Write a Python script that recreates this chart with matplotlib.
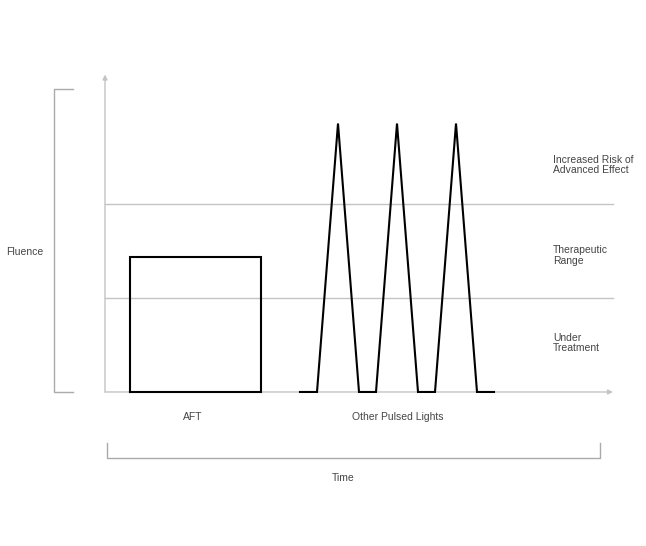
import matplotlib.pyplot as plt

# fluence levels (arbitrary units, baseline = 0)
lower_limit = 1.0
upper_limit = 2.0

# AFT: one long, flat pulse (closed box)
aft_t = [2.5, 2.5, 15.6, 15.6, 2.5]
aft_f = [0.0, 1.43, 1.43, 0.0, 0.0]

# other pulsed lights: three short, high spikes
pulse_t = [19.5, 21.2, 23.3, 25.4, 27.1, 29.2, 31.3, 33.0, 35.1, 37.2, 38.9]
pulse_f = [0.0, 0.0, 2.85, 0.0, 0.0, 2.85, 0.0, 0.0, 2.85, 0.0, 0.0]

zone_labels = ['Increased Risk of\nAdvanced Effect', 'Therapeutic\nRange', 'Under\nTreatment']
zone_pos = [2.41, 1.45, 0.52]

t_end = 50.8
f_top = 3.37

grey = '#c4c4c4'
txt = '#444444'
fnt = ['Liberation Sans', 'DejaVu Sans']

fig = plt.figure(figsize=(6.46, 5.46), dpi=100)
ax = fig.add_axes([0, 0, 1, 1])
ax.set_xlim(-10.5, 54.1)
ax.set_ylim(-1.635, 4.161)
ax.axis('off')

# axes with arrows
arrow = dict(arrowstyle='-|>', color=grey, lw=1.0, mutation_scale=7, shrinkA=0, shrinkB=0)
ax.annotate('', xy=(t_end, 0), xytext=(0, 0), arrowprops=arrow, zorder=1)
ax.annotate('', xy=(0, f_top), xytext=(0, 0), arrowprops=arrow, zorder=1)

# thresholds
for lvl in [lower_limit, upper_limit]:
    ax.plot([0, t_end], [lvl, lvl], color=grey, lw=1.0, zorder=1)

ax.plot(aft_t, aft_f, color='black', lw=1.5, solid_joinstyle='miter', zorder=3)
ax.plot(pulse_t, pulse_f, color='black', lw=1.5, solid_joinstyle='miter', zorder=3)

# brackets
ax.plot([-3.2, -5.1, -5.1, -3.2], [3.22, 3.22, 0, 0], color='#aaaaaa', lw=1.0)
ax.plot([0.2, 0.2, 49.5, 49.5], [-0.54, -0.70, -0.70, -0.54], color='#aaaaaa', lw=1.0)

ax.text(-8.0, 1.49, 'Fluence', ha='center', va='center', fontsize=7.5, color=txt, family=fnt)
ax.text(8.8, -0.265, 'AFT', ha='center', va='center', fontsize=7.5, color=txt, family=fnt)
ax.text(29.3, -0.265, 'Other Pulsed Lights', ha='center', va='center', fontsize=7.5, color=txt, family=fnt)
ax.text(23.8, -0.913, 'Time', ha='center', va='center', fontsize=7.5, color=txt, family=fnt)

for lab, p in zip(zone_labels, zone_pos):
    ax.text(44.8, p, lab, ha='left', va='center', fontsize=7.5, color=txt,
            linespacing=1.05, family=fnt)

fig.savefig('out.png', dpi=100)
